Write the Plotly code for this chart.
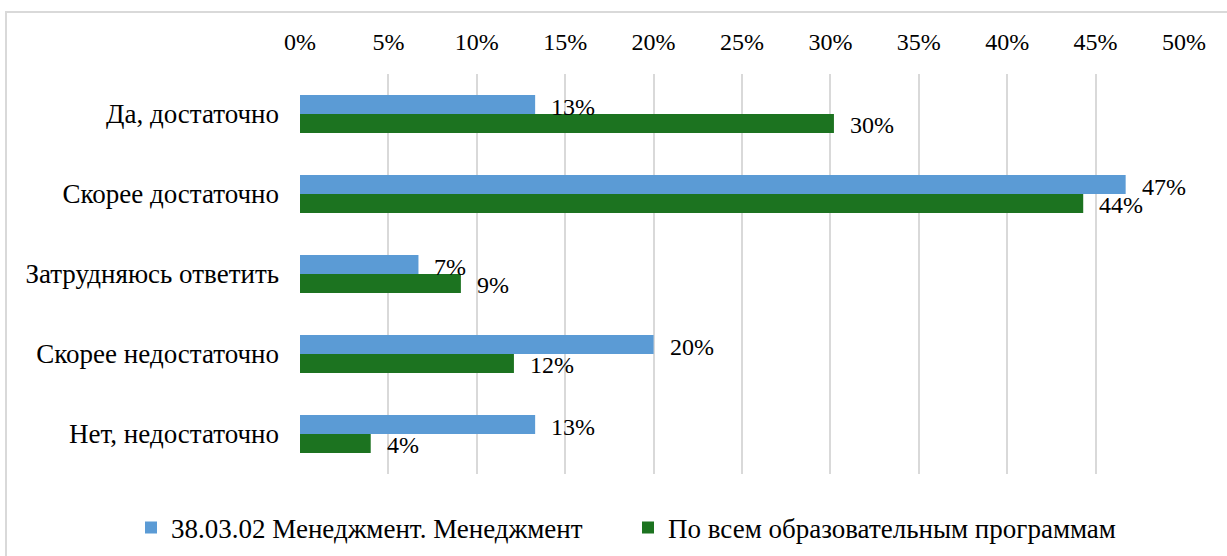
import plotly.graph_objects as go

categories = ["Да, достаточно", "Скорее достаточно", "Затрудняюсь ответить",
              "Скорее недостаточно", "Нет, недостаточно"]
series_names = ["38.03.02 Менеджмент. Менеджмент", "По всем образовательным программам"]
values_mgmt = [13.3, 46.7, 6.7, 20.0, 13.3]
values_all = [30.2, 44.3, 9.1, 12.1, 4.0]
colors = ["#5B9BD5", "#1C7320"]
x_ticks = [0, 5, 10, 15, 20, 25, 30, 35, 40, 45, 50]

FONT = '"Liberation Serif", "Times New Roman", Tinos, serif'
W, H = 1227, 556
L, R, T, B = 300, 43, 74, 82

fig = go.Figure()
legend_ids = ["legend", "legend2"]
for name, vals, col, lg in zip(series_names, [values_mgmt, values_all], colors, legend_ids):
    fig.add_trace(go.Bar(
        y=categories, x=vals, name=name, orientation="h",
        marker=dict(color=col, line=dict(width=0)),
        hoverinfo="skip", legend=lg,
    ))

annotations = []
for i, vals in enumerate([values_mgmt, values_all]):
    for cat, v in zip(categories, vals):
        annotations.append(dict(
            x=v, y=cat, xref="x", yref="y", text=f"{round(v)}%",
            showarrow=False, xanchor="left", yanchor="middle",
            xshift=14, yshift=(7.5 if i == 0 else -10.5),
            font=dict(family=FONT, size=24, color="#000000"),
        ))

pw = W - L - R
ph = H - T - B
shapes = [dict(
    type="rect", xref="paper", yref="paper", layer="below",
    x0=(6 - L) / pw, x1=(W + 20 - L) / pw,
    y0=(H - B - (H + 20)) / ph, y1=(H - B - 12) / ph,
    line=dict(color="#D9D9D9", width=2), fillcolor="rgba(0,0,0,0)",
)]

legend_common = dict(
    orientation="h", xref="container", yref="container",
    xanchor="left", y=1 - 528 / H, yanchor="middle",
    font=dict(family=FONT, size=27, color="#000000"),
    itemwidth=30, bgcolor="rgba(0,0,0,0)",
)

fig.update_layout(
    width=W, height=H,
    margin=dict(l=L, r=R, t=T, b=B),
    paper_bgcolor="white", plot_bgcolor="white",
    barmode="group", bargap=0.525, bargroupgap=0,
    font=dict(family=FONT, size=24, color="#000000"),
    xaxis=dict(
        side="top", range=[0, 50], tickvals=x_ticks,
        ticktext=[f"{t}%" for t in x_ticks],
        showgrid=True, gridcolor="#D9D9D9", gridwidth=1.5,
        zeroline=False, showline=False, ticks="",
        ticklabelstandoff=18,
        tickfont=dict(family=FONT, size=24, color="#000000"),
        fixedrange=True,
    ),
    yaxis=dict(
        autorange="reversed", showgrid=False, zeroline=False,
        showline=False, ticks="", ticklabelstandoff=20,
        tickfont=dict(family=FONT, size=27, color="#000000"),
        fixedrange=True,
    ),
    legend=dict(x=131 / W, **legend_common),
    legend2=dict(x=628 / W, **legend_common),
    shapes=shapes,
    annotations=annotations,
    showlegend=True,
)

fig.write_html(
    "out.html",
    config={"displayModeBar": False},
    post_script="document.body.style.margin='0';document.body.style.padding='0';",
)
